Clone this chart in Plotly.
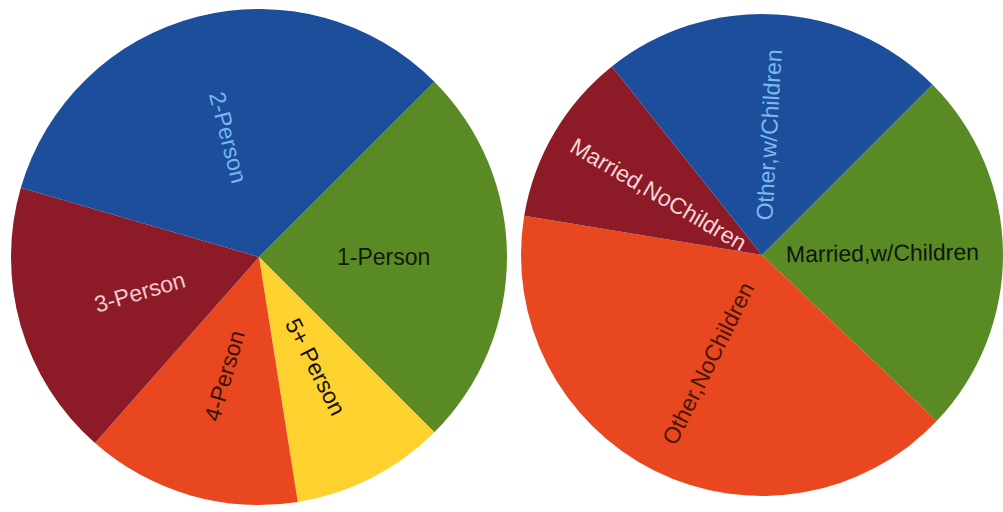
import math
import plotly.graph_objects as go

# Household size shares (percent), listed clockwise from the 1-Person slice
size_labels = ["1-Person", "5+ Person", "4-Person", "3-Person", "2-Person"]
size_values = [25, 10, 14, 18, 33]
size_colors = ["#5a8a23", "#fdd22e", "#e8471f", "#8c1b27", "#1c4e9b"]
size_text_colors = ["#121a0c", "#161008", "#3a1408", "#f2c9cd", "#76b6ec"]

# Household type shares (percent), listed clockwise from Married,w/Children
type_labels = ["Married,w/Children", "Other,NoChildren", "Married,NoChildren", "Other,w/Children"]
type_values = [24.6, 40.5, 11.7, 23.2]
type_colors = ["#5a8a23", "#e8471f", "#8c1b27", "#1c4e9b"]
type_text_colors = ["#0e1612", "#4a1608", "#f6d6da", "#7ab9ee"]

W, H = 1003, 512
START_ANGLE = 45          # first slice begins 45 degrees clockwise from 12 o'clock
LABEL_RADIUS = 0.5        # labels sit halfway out along each slice
FONT = "Liberation Sans, Arial, sans-serif"
FONT_SIZE = 23

# Pie placement in pixels: (center x, center y from top, radius)
pies = [
    dict(labels=size_labels, values=size_values, colors=size_colors,
         text_colors=size_text_colors, cx=259, cy=257, r=248),
    dict(labels=type_labels, values=type_values, colors=type_colors,
         text_colors=type_text_colors, cx=762, cy=255, r=241),
]

fig = go.Figure()
annotations = []

for p in pies:
    cx, cy, r = p["cx"], p["cy"], p["r"]
    fig.add_trace(go.Pie(
        labels=p["labels"],
        values=p["values"],
        sort=False,
        direction="clockwise",
        rotation=START_ANGLE,
        marker=dict(colors=p["colors"], line=dict(width=0)),
        textinfo="none",
        hoverinfo="label+percent",
        showlegend=False,
        domain=dict(x=[max(0.0, (cx - r) / W), min(1.0, (cx + r) / W)],
                    y=[(H - cy - r) / H, (H - cy + r) / H]),
    ))

    # Radial labels placed at the middle angle of each slice
    total = sum(p["values"])
    acc = 0.0
    for lab, val, tc in zip(p["labels"], p["values"], p["text_colors"]):
        mid = START_ANGLE + 360.0 * (acc + val / 2.0) / total
        acc += val
        th = math.radians(mid)
        dx, dy = math.sin(th), -math.cos(th)      # screen direction (y down)
        px = cx + LABEL_RADIUS * r * dx
        py = cy + LABEL_RADIUS * r * dy
        ang = math.degrees(math.atan2(dy, dx))
        if ang > 90:
            ang -= 180
        elif ang < -90:
            ang += 180
        annotations.append(dict(
            x=px / W, y=1 - py / H, xref="paper", yref="paper",
            text=lab, showarrow=False, textangle=ang,
            xanchor="center", yanchor="middle",
            font=dict(family=FONT, size=FONT_SIZE, color=tc),
        ))

fig.update_layout(
    width=W, height=H, autosize=False,
    margin=dict(l=0, r=0, t=0, b=0),
    paper_bgcolor="white", plot_bgcolor="white",
    annotations=annotations,
)

fig.write_html("out.html")
